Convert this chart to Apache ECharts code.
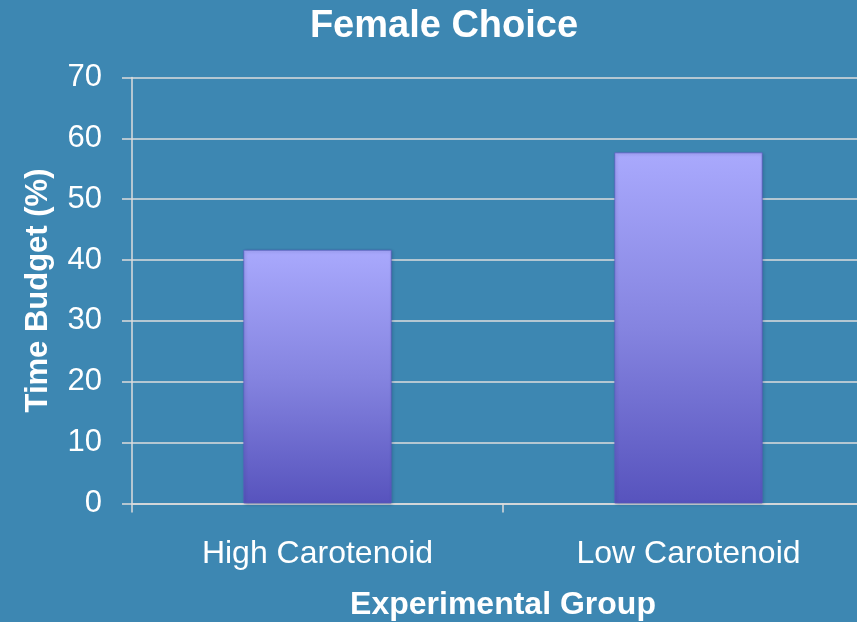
<!DOCTYPE html>
<html>
<head>
<meta charset="utf-8">
<script src="https://cdn.jsdelivr.net/npm/echarts@6/dist/echarts.min.js"></script>
<style>
  html, body { margin: 0; padding: 0; background: #3d87b2; overflow: hidden; }
  /* the plot runs past the right edge of the window, so the canvas is wider */
  #chart { width: 880px; height: 622px; }
</style>
</head>
<body>
<div id="chart"></div>
<script>
// Female choice time budget by carotenoid diet group
const categories = ['High Carotenoid', 'Low Carotenoid'];
const timeBudget = [41.7, 57.7];
const yTicks = { min: 0, max: 70, interval: 10 };

const FONT = '"Liberation Sans", Arial, sans-serif';
const chart = echarts.init(document.getElementById('chart'));

chart.setOption({
  backgroundColor: '#3d87b2',
  animation: false,
  title: {
    text: 'Female Choice',
    left: 439,
    top: 3,
    textAlign: 'center',
    textStyle: { color: '#ffffff', fontFamily: FONT, fontWeight: 'bold', fontSize: 38 }
  },
  grid: {
    left: 132, top: 77.5, width: 742, height: 426,
    containLabel: false,
    outerBoundsMode: 'none'
  },
  xAxis: {
    type: 'category',
    data: categories,
    name: 'Experimental Group',
    nameLocation: 'middle',
    nameGap: 86,
    nameTextStyle: { color: '#ffffff', fontFamily: FONT, fontWeight: 'bold', fontSize: 32 },
    axisLine: { show: true, lineStyle: { color: '#dcdcdc', width: 1.5 } },
    axisTick: { show: true, length: 9, lineStyle: { color: '#dcdcdc', width: 1.5 } },
    axisLabel: { color: '#ffffff', fontFamily: FONT, fontSize: 32, margin: 35 }
  },
  yAxis: {
    type: 'value',
    min: yTicks.min,
    max: yTicks.max,
    interval: yTicks.interval,
    name: 'Time Budget (%)',
    nameLocation: 'middle',
    nameGap: 78,
    nameTextStyle: { color: '#ffffff', fontFamily: FONT, fontWeight: 'bold', fontSize: 31 },
    axisLine: { show: true, lineStyle: { color: '#dcdcdc', width: 1.5 } },
    axisTick: { show: true, length: 10, lineStyle: { color: '#dcdcdc', width: 1.5 } },
    axisLabel: { color: '#ffffff', fontFamily: FONT, fontSize: 31, margin: 30 },
    splitLine: { show: true, lineStyle: { color: '#dcdcdc', width: 1.5 } }
  },
  series: [{
    type: 'bar',
    data: timeBudget,
    barWidth: '40%',
    itemStyle: {
      color: new echarts.graphic.LinearGradient(0, 0, 0, 1, [
        { offset: 0, color: '#a9a9fd' },
        { offset: 0.5, color: '#8584e0' },
        { offset: 1, color: '#5753bd' }
      ]),
      borderColor: 'rgba(90,90,190,0.7)',
      borderWidth: 1,
      shadowColor: 'rgba(20,40,80,0.35)',
      shadowBlur: 3,
      shadowOffsetX: 1,
      shadowOffsetY: 1
    }
  }]
});
</script>
</body>
</html>
